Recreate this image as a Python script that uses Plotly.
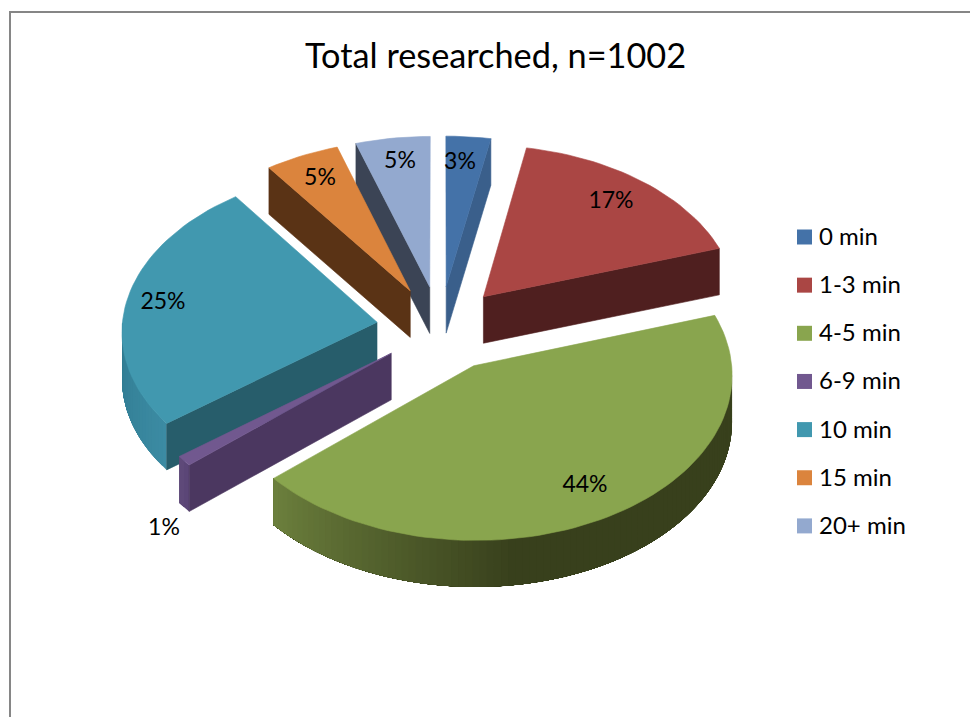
import math
import plotly.graph_objects as go

# ---- data ----
categories = ["0 min", "1-3 min", "4-5 min", "6-9 min", "10 min", "15 min", "20+ min"]
values = [3, 17, 43.6, 1, 25.4, 5, 5]
title_text = "Total researched, n=1002"

# ---- style ----
top_colors = ["#4472A8", "#AA4644", "#89A54E", "#71588F", "#4198AF", "#DB843D", "#93A9CF"]
wall_colors = ["#3A5F8B", "#4F1F1F", "#3A431E", "#4B3760", "#275D6B", "#5A3315", "#3B4455"]
rim_start_colors = ["#3A5F8B", "#4F1F1F", "#38401C", "#5A4476", "#3C8BA3", "#5A3315", "#3B4455"]
rim_end_colors = ["#3A5F8B", "#4F1F1F", "#6C803D", "#5F4A7A", "#2F7A90", "#5A3315", "#3B4455"]
explode = [0.26, 0.26, 0.265, 0.245, 0.25, 0.26, 0.26]
label_xy = [(460, 163), (611, 202), (585, 486), (164, 529), (163, 303), (320, 179), (400, 162)]

CX, CY, AX, BY, PERSP, DEPTH = 440, 328, 255, 162, 0.05, 46.5
FONT = "Lato"


def project(u, v, drop=0.0):
    f = 1 / (1 + PERSP * v)
    return CX + AX * u * f, CY - BY * v * f + drop


def rim_point(i, mid, a, drop=0.0):
    e = explode[i]
    return project(e * math.sin(mid) + math.sin(a), e * math.cos(mid) + math.cos(a), drop)


def mix(c1, c2, t):
    t = max(0.0, min(1.0, t))
    a = [int(c1[k:k + 2], 16) for k in (1, 3, 5)]
    b = [int(c2[k:k + 2], 16) for k in (1, 3, 5)]
    return "rgb(%d,%d,%d)" % tuple(round(x + (y - x) * t) for x, y in zip(a, b))


def poly(points, color, width=0.6):
    xs = [p[0] for p in points] + [points[0][0]]
    ys = [p[1] for p in points] + [points[0][1]]
    return go.Scatter(x=xs, y=ys, mode="lines", fill="toself", fillcolor=color,
                      line=dict(color=color, width=width), hoverinfo="skip", showlegend=False)


total = sum(values)
slices = []
acc = 0
for i, val in enumerate(values):
    start = 2 * math.pi * acc / total
    end = 2 * math.pi * (acc + val) / total
    acc += val
    slices.append((i, start, end, (start + end) / 2))

fig = go.Figure()
for i, start, end, mid in sorted(slices, key=lambda s: -math.cos(s[3])):
    e = explode[i]
    apex = project(e * math.sin(mid), e * math.cos(mid))
    apex_low = project(e * math.sin(mid), e * math.cos(mid), DEPTH)

    # outer rim, only the part that faces the viewer; each band covers the rest of the
    # rim so that no seams show between bands
    r0, r1 = max(start, math.pi / 2), min(end, 3 * math.pi / 2)
    if r1 > r0:
        n = max(2, int(math.degrees(r1 - r0) / 1.5))
        gstart = max(r0, math.radians(172)) if i == 2 else r0
        for k in range(n):
            a0 = r0 + (r1 - r0) * k / n
            t = (a0 + (r1 - r0) / n / 2 - gstart) / max(r1 - gstart, 1e-6)
            col = mix(rim_start_colors[i], rim_end_colors[i], t)
            steps = [a0 + (r1 - a0) * q / 40 for q in range(41)]
            band = [rim_point(i, mid, a) for a in steps] + \
                   [rim_point(i, mid, a, DEPTH) for a in reversed(steps)]
            fig.add_trace(poly(band, col, 0))

    # cut faces
    if math.sin(start) < -1e-6:
        fig.add_trace(poly([apex, rim_point(i, mid, start), rim_point(i, mid, start, DEPTH), apex_low],
                           wall_colors[i]))
    if math.sin(end) > 1e-6:
        fig.add_trace(poly([apex, rim_point(i, mid, end), rim_point(i, mid, end, DEPTH), apex_low],
                           wall_colors[i]))

    # top face
    m = max(2, int(math.degrees(end - start) / 2))
    arc = [rim_point(i, mid, start + (end - start) * k / m) for k in range(m + 1)]
    fig.add_trace(poly([apex] + arc, top_colors[i]))

# percentage labels
fig.add_trace(go.Scatter(x=[p[0] for p in label_xy], y=[p[1] for p in label_xy], mode="text",
                         text=[f"{round(v)}%" for v in values],
                         textfont=dict(family=FONT, size=23, color="#000000"),
                         hoverinfo="skip", showlegend=False))

# legend key
LEG_X, LEG_Y, LEG_STEP = 804.5, 237, 48.15
leg_y = [LEG_Y + LEG_STEP * k for k in range(len(categories))]
fig.add_trace(go.Scatter(x=[LEG_X] * len(categories), y=leg_y, mode="markers",
                         marker=dict(symbol="square", size=15, color=top_colors, line=dict(width=0)),
                         hoverinfo="skip", showlegend=False))
fig.add_trace(go.Scatter(x=[819] * len(categories), y=[y + 2 for y in leg_y], mode="text", text=categories,
                         textposition="middle right",
                         textfont=dict(family=FONT, size=24, color="#000000"),
                         hoverinfo="skip", showlegend=False))

fig.add_annotation(x=495, y=54, text=title_text, showarrow=False,
                   font=dict(family=FONT, size=34.3, color="#000000"))

frame = dict(color="#868686", width=2)
fig.add_shape(type="line", x0=9, y0=12, x1=970, y1=12, line=frame)
fig.add_shape(type="line", x0=10, y0=12, x1=10, y1=717, line=frame)

fig.update_layout(width=970, height=717, margin=dict(l=0, r=0, t=0, b=0),
                  paper_bgcolor="white", plot_bgcolor="white", showlegend=False,
                  xaxis=dict(range=[0, 970], visible=False, fixedrange=True),
                  yaxis=dict(range=[717, 0], visible=False, fixedrange=True))

fig.write_html("out.html", config={"displayModeBar": False},
               post_script="document.body.style.margin='0';document.body.style.overflow='hidden';")
